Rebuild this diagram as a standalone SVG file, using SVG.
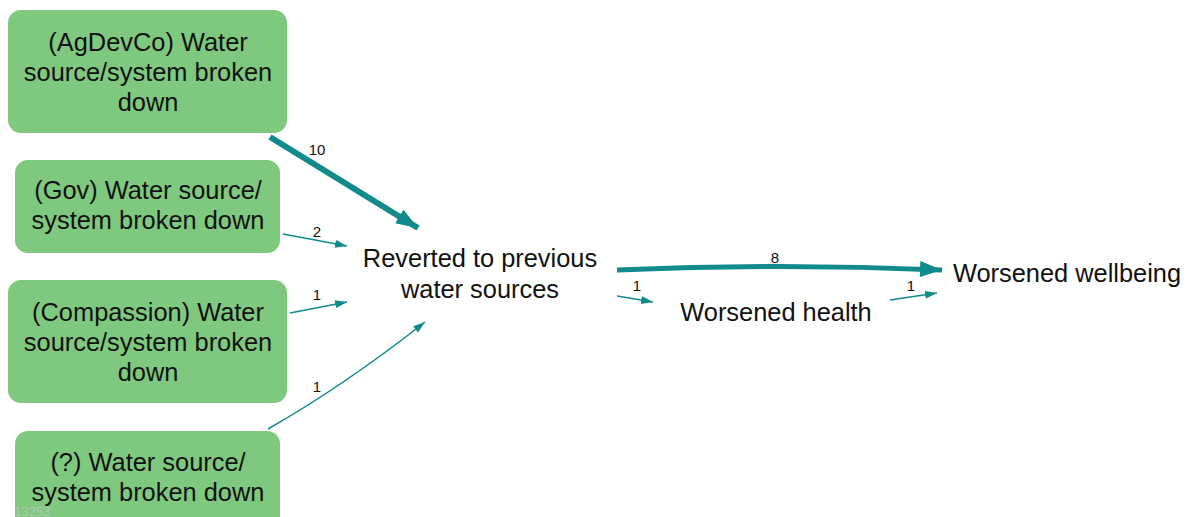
<svg xmlns="http://www.w3.org/2000/svg" width="1190" height="517" viewBox="0 0 1190 517">
<style>
.box{fill:#7fc97f;}
.t{font-family:"Liberation Sans",Arial,sans-serif;font-size:25.4px;fill:#111;text-anchor:middle;}
.e{fill:none;stroke:#108a8c;stroke-linecap:butt;}
.l{font-family:"Liberation Sans",Arial,sans-serif;font-size:15px;fill:#111;text-anchor:middle;}
</style>
<defs>
<marker id="ah" viewBox="0 0 12 8" refX="12" refY="4" markerWidth="12" markerHeight="8" markerUnits="userSpaceOnUse" orient="auto">
<path d="M0,0 L12,4 L0,8 z" fill="#108a8c"/>
</marker>
<marker id="ahb" viewBox="0 0 22 16" refX="22" refY="8" markerWidth="22" markerHeight="16" markerUnits="userSpaceOnUse" orient="auto">
<path d="M0,0 L22,8 L0,16 z" fill="#108a8c"/>
</marker>
</defs>
<rect width="1190" height="517" fill="#fff"/>
<g id="edges">
<path class="e" d="M270,137 L418,228" stroke-width="6" marker-end="url(#ahb)"/>
<text class="l" x="317" y="155">10</text>
<path class="e" d="M283,234 L347,246" stroke-width="1.5" marker-end="url(#ah)"/>
<text class="l" x="317" y="237">2</text>
<path class="e" d="M290,313 L347,302" stroke-width="1.5" marker-end="url(#ah)"/>
<text class="l" x="317" y="300">1</text>
<path class="e" d="M268,429 Q345,385 425,322" stroke-width="1.5" marker-end="url(#ah)"/>
<text class="l" x="317" y="392">1</text>
<path class="e" d="M617,270 Q780,263 942,270" stroke-width="5" marker-end="url(#ahb)"/>
<text class="l" x="775" y="263">8</text>
<path class="e" d="M617,296 L653,302" stroke-width="1.5" marker-end="url(#ah)"/>
<text class="l" x="637" y="291">1</text>
<path class="e" d="M890,300 L937,293" stroke-width="1.5" marker-end="url(#ah)"/>
<text class="l" x="911" y="291">1</text>
</g>
<g id="n1">
<rect class="box" x="8" y="10" width="279" height="123" rx="13"/>
<text class="t" x="148" y="51">(AgDevCo) Water</text>
<text class="t" x="148" y="81">source/system broken</text>
<text class="t" x="148" y="111">down</text>
</g>
<g id="n2">
<rect class="box" x="15" y="160" width="265" height="93" rx="13"/>
<text class="t" x="148" y="199">(Gov) Water source/</text>
<text class="t" x="148" y="229">system broken down</text>
</g>
<g id="n3">
<rect class="box" x="8" y="280" width="279" height="123" rx="13"/>
<text class="t" x="148" y="321">(Compassion) Water</text>
<text class="t" x="148" y="351">source/system broken</text>
<text class="t" x="148" y="381">down</text>
</g>
<g id="n4">
<rect class="box" x="15" y="431" width="265" height="100" rx="13"/>
<text class="t" x="148" y="471">(?) Water source/</text>
<text class="t" x="148" y="501">system broken down</text>
</g>
<g id="n5">
<text class="t" x="480" y="267">Reverted to previous</text>
<text class="t" x="480" y="298">water sources</text>
</g>
<g id="n6">
<text class="t" x="776" y="321">Worsened health</text>
</g>
<g id="n7">
<text class="t" x="1067" y="282">Worsened wellbeing</text>
</g>
<text x="14" y="516" font-family="'Liberation Sans',Arial,sans-serif" font-size="13" fill="#c8c8c8" opacity="0.7">13253</text>
</svg>
